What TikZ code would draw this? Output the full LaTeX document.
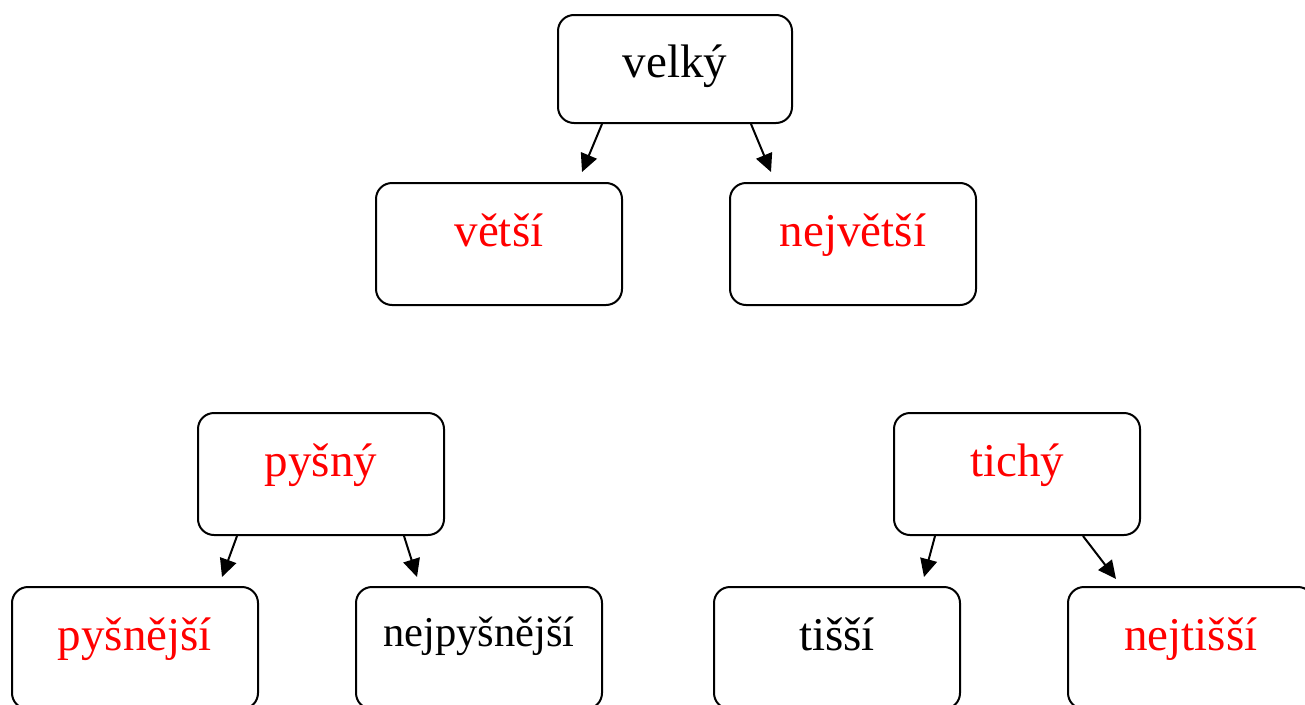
\documentclass[tikz,border=0pt]{standalone}
\usepackage{fontspec}
\setmainfont{Liberation Serif}
\usetikzlibrary{arrows.meta}
\definecolor{wred}{RGB}{255,0,0}
\tikzset{
  x=1pt, y=-1pt,
  box/.style={draw=black, line width=2pt, rounded corners=16pt, minimum width=246pt, minimum height=122pt, inner sep=0pt},
  topbox/.style={box, minimum width=234pt, minimum height=108pt},
  word/.style={anchor=base, inner sep=0pt, font=\fontsize{47}{50}\selectfont},
  smallword/.style={anchor=base, inner sep=0pt, font=\fontsize{42.5}{46}\selectfont},
  red/.style={text=wred},
  conn/.style={line width=2pt, -{Triangle[length=18pt,width=17pt]}}
}
\begin{document}
\begin{tikzpicture}
\useasboundingbox (0,0) rectangle (1305,704);
\fill[white] (0,0) rectangle (1305,704);
% boxes
\node[topbox] (b1) at (675,69) {};
\node[box] (b2) at (499,244) {};
\node[box] (b3) at (853,244) {};
\node[box] (b4) at (321,474) {};
\node[box] (b5) at (1017,474) {};
\node[box] (b6) at (135,648) {};
\node[box] (b7) at (479,648) {};
\node[box] (b8) at (837,648) {};
\node[box] (b9) at (1191,648) {};
% texts
\node[word] (t1) at (675,77) {velký};
\node[word, red] (t2) at (499,246) {větší};
\node[word, red] (t3) at (853,246) {největší};
\node[word, red] (t4) at (321,476) {pyšný};
\node[word, red] (t5) at (1017,476) {tichý};
\node[word, red] (t6) at (135,650) {pyšnější};
\node[smallword] (t7) at (479,646) {nejpyšnější};
\node[word] (t8) at (837,650) {tišší};
\node[word, red] (t9) at (1191,650) {nejtišší};
% arrow ends
\coordinate (e1) at (582,172);
\coordinate (e2) at (771,172);
\coordinate (e3) at (222,577);
\coordinate (e4) at (417,577);
\coordinate (e5) at (924,577);
\coordinate (e6) at (1116,579);
\draw[conn] ([xshift=45pt]b1.south west) -- (e1);
\draw[conn] ([xshift=-42pt]b1.south east) -- (e2);
\draw[conn] ([xshift=40pt]b4.south west) -- (e3);
\draw[conn] ([xshift=-41pt]b4.south east) -- (e4);
\draw[conn] ([xshift=42pt]b5.south west) -- (e5);
\draw[conn] ([xshift=-58pt]b5.south east) -- (e6);
\end{tikzpicture}
\end{document}
